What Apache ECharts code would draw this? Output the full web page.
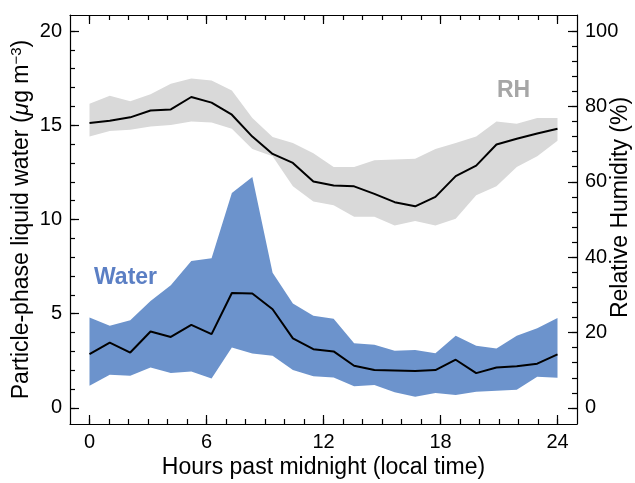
<!DOCTYPE html>
<html>
<head>
<meta charset="utf-8">
<script src="https://cdn.jsdelivr.net/npm/echarts@6/dist/echarts.min.js"></script>
<style>
html,body{margin:0;padding:0;background:#fff;}
#main{width:635px;height:483px;}
</style>
</head>
<body>
<div id="main"></div>
<script>
// time of each averaged point (hours past midnight)
var hours = [0, 1.04, 2.09, 3.13, 4.17, 5.22, 6.26, 7.30, 8.35, 9.39, 10.43, 11.48,
             12.52, 13.57, 14.61, 15.65, 16.70, 17.74, 18.78, 19.83, 20.87, 21.91, 22.96, 24];
// relative humidity (%) - mean, lower and upper edge of the band
var rhMean = [75.6, 76.2, 77.1, 78.9, 79.2, 82.5, 81.0, 77.8, 72.0, 67.4, 65.0, 60.1,
              59.0, 58.8, 56.8, 54.6, 53.5, 56.0, 61.5, 64.3, 69.9, 71.4, 72.8, 74.1];
var rhLow  = [72.0, 73.5, 73.8, 74.7, 75.1, 76.0, 75.7, 74.1, 68.7, 66.8, 58.8, 54.8,
              53.8, 50.7, 50.7, 48.4, 49.6, 48.4, 50.2, 56.4, 58.8, 63.9, 66.8, 70.9];
var rhHigh = [80.7, 82.8, 81.4, 83.2, 86.0, 87.4, 86.9, 84.2, 76.9, 71.9, 70.3, 67.6,
              63.9, 63.9, 65.7, 65.9, 66.1, 68.7, 70.3, 72.0, 76.0, 75.4, 76.9, 76.9];
// particle-phase liquid water (ug m-3)
var waterMean = [2.86, 3.47, 2.94, 4.06, 3.77, 4.41, 3.92, 6.10, 6.07, 5.24, 3.69, 3.12,
                 3.00, 2.24, 2.01, 1.99, 1.96, 2.01, 2.56, 1.85, 2.15, 2.22, 2.35, 2.84];
var waterLow  = [1.18, 1.76, 1.71, 2.15, 1.85, 1.94, 1.57, 3.21, 2.89, 2.77, 2.01, 1.68,
                 1.62, 1.15, 1.22, 0.83, 0.60, 0.79, 0.69, 0.86, 0.92, 0.97, 1.66, 1.60];
var waterHigh = [4.80, 4.36, 4.66, 5.68, 6.51, 7.80, 7.94, 11.41, 12.26, 7.18, 5.54, 4.89,
                 4.74, 3.44, 3.35, 3.03, 3.07, 2.91, 3.83, 3.30, 3.16, 3.83, 4.23, 4.78];
// tick positions
var hourMajor = [0, 6, 12, 18, 24];
var hourMinor = [];
for (var h = 0; h <= 24; h++) hourMinor.push(h);
var waterMajor = [0, 5, 10, 15, 20];
var waterMinor = [];
for (var w = 0; w <= 20; w++) waterMinor.push(w);
var rhMajor = [0, 20, 40, 60, 80, 100];
var rhMinor = [];
for (var r = 0; r <= 100; r += 4) rhMinor.push(r);

var FONT = '"Liberation Sans", Arial, Helvetica, sans-serif';

function pairs(ys) {
	return ys.map(function (v, i) { return [hours[i], v]; });
}
function triples(lo, hi) {
	return lo.map(function (v, i) { return [hours[i], v, hi[i]]; });
}

// 整条带子画成一个多边形（上沿往右，下沿往回）
function bandItem(color) {
	return function (params, api) {
		if (params.dataIndexInside !== 0) return null;
		var n = params.dataInsideLength;
		var top = [], bottom = [];
		for (var i = 0; i < n; i++) {
			var x = api.value(0, i);
			top.push(api.coord([x, api.value(2, i)]));
			bottom.unshift(api.coord([x, api.value(1, i)]));
		}
		return {
			type: 'polygon',
			shape: {points: top.concat(bottom)},
			style: {fill: color, stroke: null}
		};
	};
}

var myChart = echarts.init(document.getElementById('main'), null, {renderer: 'canvas'});

function xAx(pos, ticks, len, withLabel, showLine) {
	return {
		type: 'value', position: pos, min: -1, max: 25,
		axisLine: {show: showLine, onZero: false, lineStyle: {color: '#000', width: 1.2}},
		axisTick: {inside: true, length: len, customValues: ticks, lineStyle: {color: '#000', width: 1.2}},
		axisLabel: {show: withLabel, customValues: ticks, fontSize: 20, color: '#000', margin: 8, fontFamily: FONT},
		splitLine: {show: false},
		nameMoveOverlap: false
	};
}
function yAx(pos, min, max, ticks, len, withLabel, showLine) {
	return {
		type: 'value', position: pos, min: min, max: max,
		axisLine: {show: showLine, onZero: false, lineStyle: {color: '#000', width: 1.2}},
		axisTick: {inside: true, length: len, customValues: ticks, lineStyle: {color: '#000', width: 1.2}},
		axisLabel: {show: withLabel, customValues: ticks, fontSize: 20, color: '#000', margin: 8, fontFamily: FONT},
		splitLine: {show: false},
		nameMoveOverlap: false
	};
}

var xBottom = xAx('bottom', hourMajor, 9, true, true);
xBottom.name = 'Hours past midnight (local time)';
xBottom.nameLocation = 'middle';
xBottom.nameGap = 32;
xBottom.nameTextStyle = {fontSize: 23, color: '#000', fontFamily: FONT};

var yLeft = yAx('left', -0.85, 20.85, waterMajor, 9, true, true);
yLeft.name = 'Particle-phase liquid water ({i|μ}g m{sup|−3})';
yLeft.nameLocation = 'middle';
yLeft.nameRotate = 90;
yLeft.nameGap = 36;
yLeft.nameTextStyle = {
	fontSize: 23, color: '#000', fontFamily: FONT,
	rich: {
		i: {fontSize: 23, fontStyle: 'italic', color: '#000', fontFamily: FONT},
		sup: {fontSize: 15, color: '#000', fontFamily: FONT, verticalAlign: 'top', padding: [0, 0, 10, 0]}
	}
};

var yRight = yAx('right', -4.25, 104.25, rhMajor, 9, true, true);
yRight.name = 'Relative Humidity (%)';
yRight.nameLocation = 'middle';
yRight.nameRotate = 90;
yRight.nameGap = 32;
// 标题在原图里略偏上
yRight.nameTextStyle = {fontSize: 23, color: '#000', fontFamily: FONT, padding: [0, 0, 0, 24]};

var option = {
	animation: false,
	backgroundColor: '#fff',
	grid: {left: 70, right: 58, top: 15, bottom: 59, containLabel: false, outerBoundsMode: 'none'},
	xAxis: [
		xBottom,
		xAx('bottom', hourMinor, 5, false, false),
		xAx('top', hourMajor, 9, false, true),
		xAx('top', hourMinor, 5, false, false)
	],
	yAxis: [
		yLeft,
		yRight,
		yAx('left', -0.85, 20.85, waterMinor, 5, false, false),
		yAx('right', -4.25, 104.25, rhMinor, 5, false, false)
	],
	series: [
		{
			name: 'RH range', type: 'custom', xAxisIndex: 0, yAxisIndex: 1,
			data: triples(rhLow, rhHigh), encode: {x: 0, y: [1, 2]},
			renderItem: bandItem('#d9d9d9'), silent: true
		},
		{
			name: 'RH', type: 'line', xAxisIndex: 0, yAxisIndex: 1,
			data: pairs(rhMean), symbol: 'none', lineStyle: {color: '#000', width: 2}
		},
		{
			name: 'Water range', type: 'custom', xAxisIndex: 0, yAxisIndex: 0,
			data: triples(waterLow, waterHigh), encode: {x: 0, y: [1, 2]},
			renderItem: bandItem('#6c93cc'), silent: true
		},
		{
			name: 'Water', type: 'line', xAxisIndex: 0, yAxisIndex: 0,
			data: pairs(waterMean), symbol: 'none', lineStyle: {color: '#000', width: 2}
		}
	],
	graphic: [
		{
			type: 'text', x: 94, y: 278,
			style: {text: 'Water', font: 'bold 23px ' + FONT, fill: '#5b7fc4', textVerticalAlign: 'middle'}
		},
		{
			type: 'text', x: 497, y: 91,
			style: {text: 'RH', font: 'bold 23px ' + FONT, fill: '#a6a6a6', textVerticalAlign: 'middle'}
		}
	]
};
myChart.setOption(option);
</script>
</body>
</html>
